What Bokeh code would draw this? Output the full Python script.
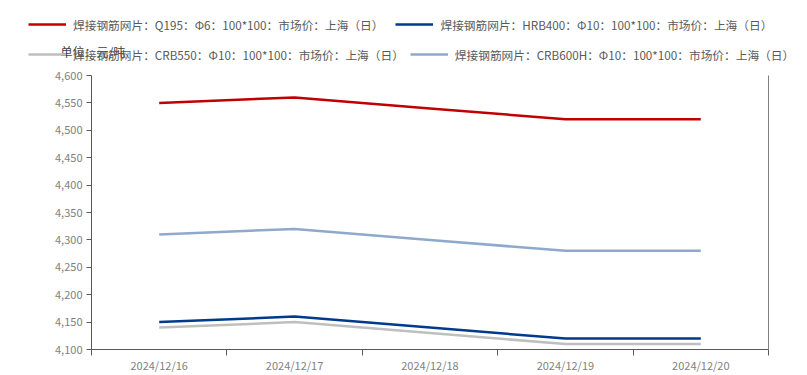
from bokeh.plotting import figure
from bokeh.models import (FactorRange, Range1d, LinearAxis, FixedTicker, NumeralTickFormatter,
                          Legend, LegendItem, Label)
from bokeh.embed import file_html
from bokeh.resources import INLINE

dates = ["2024/12/16", "2024/12/17", "2024/12/18", "2024/12/19", "2024/12/20"]
names = [
    "焊接钢筋网片：Q195：Φ6：100*100：市场价：上海（日）",
    "焊接钢筋网片：HRB400：Φ10：100*100：市场价：上海（日）",
    "焊接钢筋网片：CRB550：Φ10：100*100：市场价：上海（日）",
    "焊接钢筋网片：CRB600H：Φ10：100*100：市场价：上海（日）",
]
q195 = [4550, 4560, 4540, 4520, 4520]
hrb400 = [4150, 4160, 4140, 4120, 4120]
crb550 = [4140, 4150, 4130, 4110, 4110]
crb600h = [4310, 4320, 4300, 4280, 4280]
y_ticks = [4100, 4150, 4200, 4250, 4300, 4350, 4400, 4450, 4500, 4550, 4600]
unit_text = "单位：元/吨"

series = [q195, hrb400, crb550, crb600h]
colors = ["#C00000", "#003A8C", "#BFBFBF", "#8EA9CB"]

FONT = "Noto Sans CJK SC"
W = 800
LEG_H = 65

# ---------------- main chart ----------------
p = figure(width=W, height=375 - LEG_H, x_range=FactorRange(*dates), y_range=Range1d(4100, 4600),
           x_axis_type=None, y_axis_type=None, output_backend="svg", toolbar_location=None,
           min_border_left=91, min_border_right=32, min_border_top=10, min_border_bottom=25)
p.outline_line_color = None
p.xgrid.visible = False
p.ygrid.visible = False

for vals, c in zip(series, colors):
    p.line(x=dates, y=vals, line_color=c, line_width=2.5)

n = len(dates)
xax = LinearAxis(ticker=FixedTicker(ticks=[i + 0.5 for i in range(n)],
                                    minor_ticks=[float(i) for i in range(n + 1)]))
xax.major_label_overrides = {i + 0.5: d for i, d in enumerate(dates)}
xax.major_tick_out = 0
xax.major_tick_in = 0
xax.minor_tick_out = 6
xax.minor_tick_in = 0
xax.minor_tick_line_color = "#595959"
xax.axis_line_color = "#595959"
xax.major_label_text_color = "#7F7F7F"
xax.major_label_text_font = FONT
xax.major_label_text_font_size = "11px"
xax.major_label_standoff = 1
p.add_layout(xax, "below")

yax = LinearAxis(ticker=FixedTicker(ticks=y_ticks, minor_ticks=[]),
                 formatter=NumeralTickFormatter(format="0,0"))
yax.major_tick_out = 5
yax.major_tick_in = 0
yax.major_tick_line_color = "#595959"
yax.axis_line_color = "#595959"
yax.major_label_text_color = "#7F7F7F"
yax.major_label_text_font = FONT
yax.major_label_text_font_size = "11px"
yax.major_label_standoff = 4
p.add_layout(yax, "left")

rax = LinearAxis(ticker=FixedTicker(ticks=[]))
rax.major_tick_out = 0
rax.major_tick_in = 0
rax.axis_line_color = "#7F7F7F"
rax.major_label_text_font_size = "0px"
p.add_layout(rax, "right")

# ---------------- legend strip ----------------
lf = figure(width=W, height=LEG_H, x_range=FactorRange(*dates), y_range=Range1d(0, 1),
            x_axis_type=None, y_axis_type=None, output_backend="svg", toolbar_location=None,
            min_border_left=0, min_border_right=0, min_border_top=0, min_border_bottom=0)
lf.outline_line_color = None
lf.xgrid.visible = False
lf.ygrid.visible = False
leg_r = []
for vals, c in zip(series, colors):
    leg_r.append(lf.line(x=dates, y=vals, line_color=c, line_width=2.5, visible=False))

def make_legend(idx, loc, spacing):
    items = [LegendItem(label=names[i], renderers=[leg_r[i]]) for i in idx]
    return Legend(items=items, orientation="horizontal", location=loc, nrows=1,
                  label_text_font=FONT, label_text_font_size="11.7px", label_text_color="#595959",
                  glyph_width=38, glyph_height=20, label_standoff=7, spacing=spacing,
                  padding=0, margin=0, border_line_color=None, background_fill_alpha=0,
                  inactive_fill_alpha=0, click_policy="none")

lf.add_layout(make_legend([0, 1], (28, 31), 12))
lf.add_layout(make_legend([2, 3], (28, 1), 6))

lab = Label(x=60, y=14, x_units="screen", y_units="screen", text=unit_text,
            text_font=FONT, text_font_size="12px", text_color="#404040",
            text_baseline="middle", text_align="left")
lf.add_layout(lab)

open("out.html", "w").write(file_html([lf, p], INLINE))
